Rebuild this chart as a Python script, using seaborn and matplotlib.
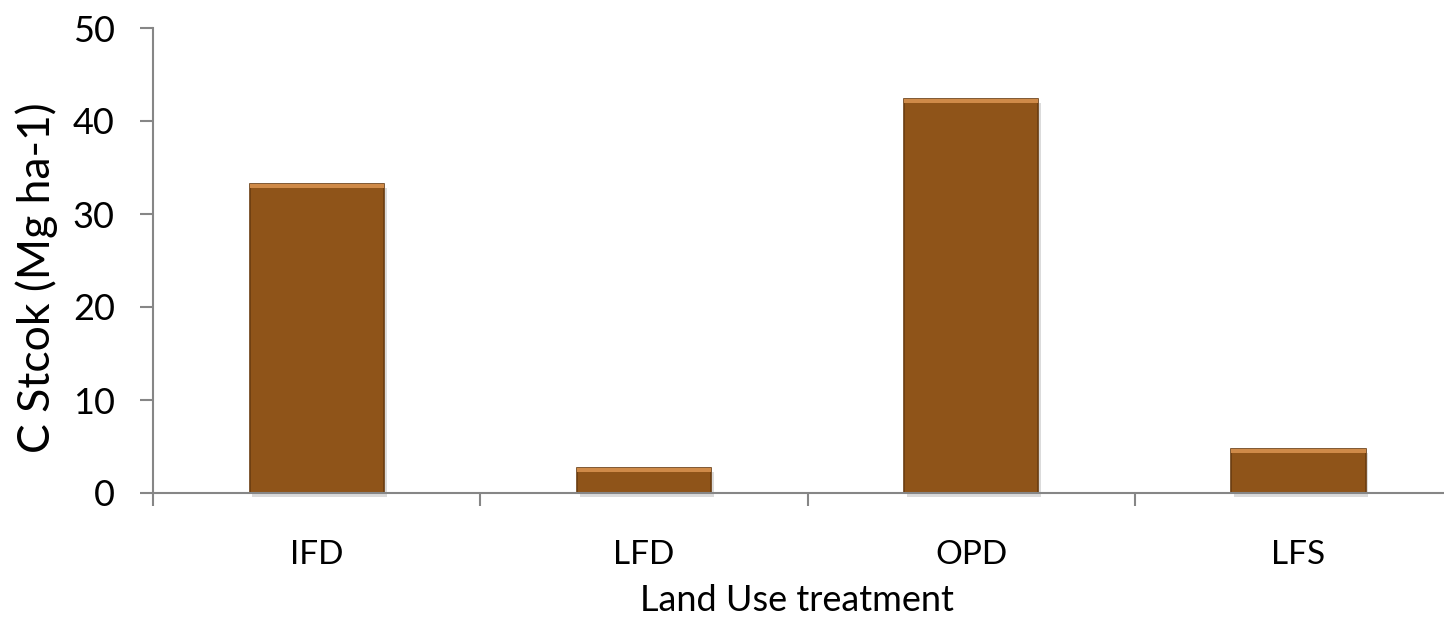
import pandas as pd
import matplotlib.pyplot as plt
import matplotlib.patheffects as pe
import seaborn as sns

# data
treatments = ["IFD", "LFD", "OPD", "LFS"]
c_stock = [33.2, 2.7, 42.4, 4.7]

df = pd.DataFrame({"treatment": treatments, "stock": c_stock})

sns.set_style("white")
plt.rcParams["font.family"] = ["Lato", "DejaVu Sans"]
plt.rcParams["text.color"] = "black"
plt.rcParams["axes.labelcolor"] = "black"
plt.rcParams["xtick.labelcolor"] = "black"
plt.rcParams["ytick.labelcolor"] = "black"

fig = plt.figure(figsize=(14.44, 6.25), dpi=100)
ax = fig.add_axes([0.106, 0.2112, 0.9065, 0.744])

sns.barplot(data=df, x="treatment", y="stock", color="#8f5419",
            width=0.41, saturation=1, edgecolor="#6a3c10", linewidth=1.2, ax=ax)

# soft shadow + lighter bevel on the top edge of each bar
for bar in ax.patches:
    bar.set_path_effects([pe.SimplePatchShadow(offset=(2, -3), shadow_rgbFace="#999999", alpha=0.35),
                          pe.Normal()])
    bar.set_clip_on(False)
    x, w, h = bar.get_x(), bar.get_width(), bar.get_height()
    ax.add_patch(plt.Rectangle((x, h - 0.45), w, 0.45, color="#cf8a48", lw=0, zorder=3))

ax.set_xlim(-0.5, 3.5)
ax.set_ylim(0, 50)
ax.set_yticks([0, 10, 20, 30, 40, 50])

# tick marks between categories, labels at centres
ax.set_xticks([-0.5, 0.5, 1.5, 2.5, 3.5], minor=True)
ax.tick_params(axis="x", which="major", length=0, pad=34, labelsize=24, labelcolor="black")
ax.tick_params(axis="x", which="minor", length=9.5, width=1.5, color="#868686", direction="out")
ax.tick_params(axis="y", length=9.5, width=1.5, color="#868686", direction="out", pad=18,
               labelsize=26, labelcolor="black")
ax.tick_params(bottom=True, left=True)
ax.xaxis.set_tick_params(which="minor", bottom=True)

for side in ["top", "right"]:
    ax.spines[side].set_visible(False)
for side in ["left", "bottom"]:
    ax.spines[side].set_color("#868686")
    ax.spines[side].set_linewidth(1.5)

ax.set_xlabel("Land Use treatment", fontsize=26, color="black")
ax.set_ylabel("C Stcok (Mg ha-1)", fontsize=32, color="black")
ax.xaxis.set_label_coords(0.492, -0.195)
ax.yaxis.set_label_coords(-0.0886, 0.462)
ax.yaxis.label.set_va("center")

fig.savefig("out.png", dpi=100)
